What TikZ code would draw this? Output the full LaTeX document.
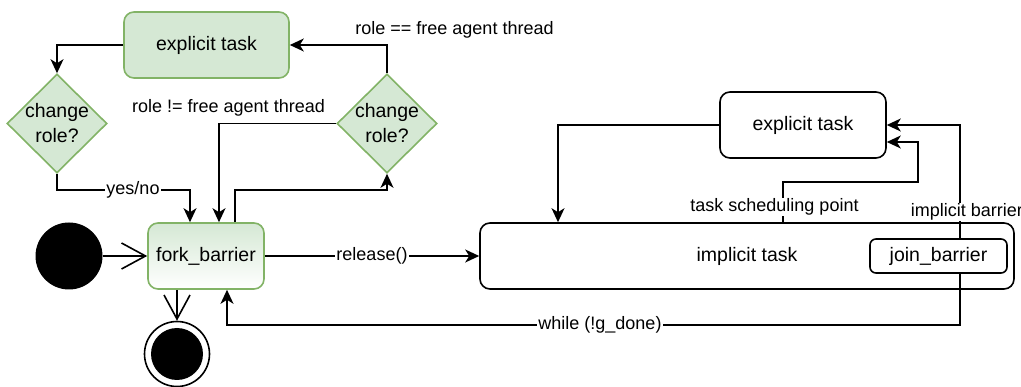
\documentclass[tikz,border=0pt]{standalone}
\usepackage{fontspec}
\setmainfont{Liberation Sans}
\usetikzlibrary{arrows.meta,shapes.geometric}
\definecolor{gfill}{HTML}{D5E8D4}
\definecolor{gline}{HTML}{82B366}
\tikzset{
  base/.style={line width=1.6pt},
  nodefont/.style={font=\fontsize{19.5}{25}\selectfont},
  lblfont/.style={font=\fontsize{18}{21}\selectfont},
  greenbox/.style={base, nodefont, draw=gline, fill=gfill, rounded corners=10pt,
    inner sep=0pt},
  plainbox/.style={base, nodefont, draw=black, fill=white, rounded corners=10pt,
    inner sep=0pt},
  decision/.style={base, draw=gline, fill=gfill, diamond, inner sep=0pt,
    minimum width=100pt, minimum height=99pt},
  arr/.style={base, -{Stealth[length=14pt,width=13pt,inset=4pt]}},
  openarr/.style={base, -{Straight Barb[length=24pt,width=26pt,line width=1.6pt]}},
  lbl/.style={lblfont, inner sep=1pt},
  wlbl/.style={lblfont, fill=white, inner sep=1pt},
}
\begin{document}
\begin{tikzpicture}[x=1pt,y=-1pt]
\useasboundingbox (0,0) rectangle (1021,387);

% left-hand state machine
\node[greenbox, minimum width=165pt, minimum height=66pt] (et1) at (206.5,45) {explicit task};
\node[decision, label={[nodefont, align=center]center:change\\role?}] (d1) at (57,123.5) {};
\node[decision, label={[nodefont, align=center]center:change\\role?}] (d2) at (387,123.5) {};
\node[greenbox, draw=gline, top color=gfill, bottom color=white,
  minimum width=116pt, minimum height=66pt] (fork) at (206,256) {fork\_barrier};
\node[circle, fill=black, minimum size=67pt, inner sep=0pt] (start) at (69,256) {};
\node[circle, base, draw=black, fill=white, minimum size=65pt, inner sep=0pt] (end) at (177,354) {};
\node[circle, fill=black, minimum size=52pt, inner sep=0pt] (endin) at (end.center) {};

% right-hand task region
\node[plainbox, minimum width=534pt, minimum height=66pt] (impl) at (747,256) {implicit task};
\node[plainbox, rounded corners=6pt, minimum width=137pt, minimum height=34pt] (jb) at (938.5,256) {join\_barrier};
\node[plainbox, minimum width=166pt, minimum height=66pt] (et2) at (803,125) {explicit task};

% connectors around the fork barrier
\draw[arr] (d2.north) |- (et1.east);
\node[lbl] (l1) at (454.5,30) {role == free agent thread};
\draw[arr] (et1.west) -| (d1.north);
\draw[arr] (d1.south) |- (190,190) -- ([xshift=-16pt]fork.north);
\node[wlbl] (l2) at (133,190) {yes/no};
\draw[arr] (d2.west) -| ([xshift=13pt]fork.north);
\node[lbl] (l3) at (228.5,108) {role != free agent thread};
\draw[arr] ([xshift=29pt]fork.north) |- (387,190) -- (d2.south);
\draw[openarr] (start.east) -- (fork.west);
\draw[openarr] ([xshift=-29pt]fork.south) -- (end.north);
\draw[arr] (fork.east) -- (impl.west);
\node[wlbl] (l4) at (372,256) {release()};

% connectors around the implicit task
\draw[arr] (et2.west) -| ([xshift=-189pt]impl.north);
\draw[arr] ([xshift=36pt]impl.north) |- (918,182) |- ([yshift=-17pt]et2.east);
\node[wlbl] (l5) at (774.5,207) {task scheduling point};
\draw[arr] ([xshift=21.5pt]jb.north) |- (et2.east);
\node[wlbl] (l6) at (967,212) {implicit barrier};
\draw[arr] ([xshift=21.5pt]jb.south) |- (227,325) -- ([xshift=21pt]fork.south);
\node[wlbl] (l7) at (600,325) {while (!g\_done)};
\end{tikzpicture}
\end{document}
